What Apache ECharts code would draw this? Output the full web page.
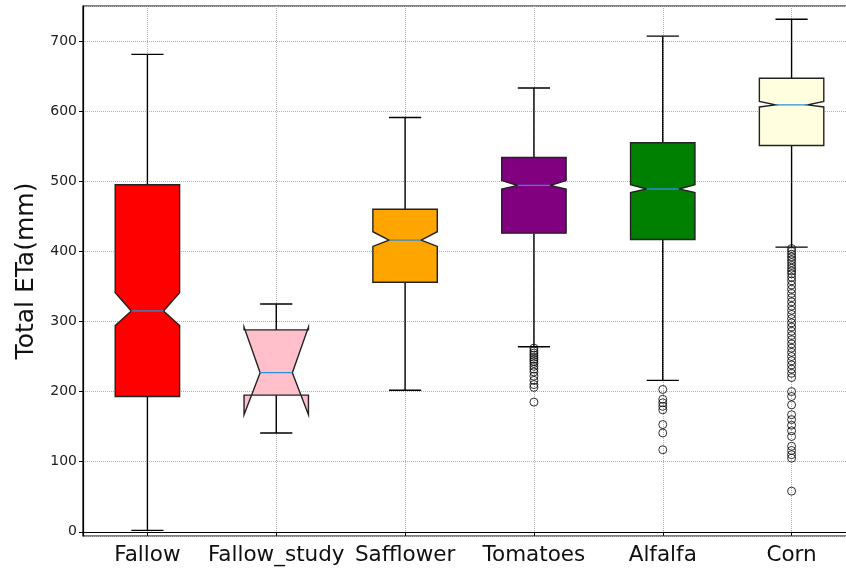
<!DOCTYPE html>
<html>
<head>
<meta charset="utf-8">
<script src="https://cdn.jsdelivr.net/npm/echarts@6/dist/echarts.min.js"></script>
<style>
  html, body { margin: 0; padding: 0; background: #fff; }
  #chart { width: 846px; height: 569px; }
</style>
</head>
<body>
<div id="chart"></div>
<script>
// crops and box statistics
const categories = ["Fallow", "Fallow_study", "Safflower", "Tomatoes", "Alfalfa", "Corn"];
const whiskerLow = [2, 141, 202, 264, 216, 406];
const q1 = [193, 195, 356, 426, 417, 551];
const notchLow = [294, 167, 407, 489, 484, 606];
const median = [315, 227, 416, 494, 489, 609];
const notchHigh = [341, 292, 428, 501, 495, 614];
const q3 = [495, 288, 460, 534, 555, 647];
const whiskerHigh = [681, 325, 591, 633, 707, 731];

const tomatoesOutliers = [262, 258, 255, 252, 249, 246, 243, 240, 236, 232, 228, 222, 216, 210, 206, 185];
const alfalfaOutliers = [203, 189, 184, 179, 174, 153, 141, 117];
const cornOutliers = [404, 400, 396, 392, 388, 384, 380, 376, 372, 368, 363, 358, 352, 346, 340,
  334, 328, 322, 316, 310, 304, 298, 292, 286, 280, 274, 268, 262, 256, 250, 244, 238, 232,
  226, 220, 200, 193, 181, 167, 160, 152, 144, 136, 122, 116, 110, 105, 58];

const boxColors = ["#ff0000", "#ffc0cb", "#ffa500", "#800080", "#008000", "#ffffe0"];

const boxData = categories.map((c, i) => [
  i, whiskerLow[i], q1[i], notchLow[i], median[i], notchHigh[i], q3[i], whiskerHigh[i]
]);

const outlierData = [];
tomatoesOutliers.forEach(v => outlierData.push([3, v]));
alfalfaOutliers.forEach(v => outlierData.push([4, v]));
cornOutliers.forEach(v => outlierData.push([5, v]));

function renderBox(params, api) {
  const idx = api.value(0);
  const band = api.size([1, 0])[0];
  const cx = api.coord([idx, 0])[0];
  const half = band * 0.25;   // box width 0.5
  const capHalf = band * 0.125; // cap / notch width 0.25
  const y = k => api.coord([idx, api.value(k)])[1];
  const wLo = y(1), bq1 = y(2), nLo = y(3), med = y(4), nHi = y(5), bq3 = y(6), wHi = y(7);
  const L = cx - half, R = cx + half, cL = cx - capHalf, cR = cx + capHalf;
  const pts = [[L, bq1], [R, bq1], [R, nLo], [cR, med], [R, nHi], [R, bq3],
               [L, bq3], [L, nHi], [cL, med], [L, nLo], [L, bq1]];
  const line = { stroke: "#000", lineWidth: 1.4 };
  return {
    type: "group",
    children: [
      { type: "line", shape: { x1: cx, y1: bq1, x2: cx, y2: wLo }, style: line },
      { type: "line", shape: { x1: cx, y1: bq3, x2: cx, y2: wHi }, style: line },
      { type: "line", shape: { x1: cL, y1: wLo, x2: cR, y2: wLo }, style: line },
      { type: "line", shape: { x1: cL, y1: wHi, x2: cR, y2: wHi }, style: line },
      { type: "polygon", shape: { points: pts },
        style: { fill: boxColors[idx], stroke: "#222", lineWidth: 1.4 } },
      { type: "line", shape: { x1: cL, y1: med, x2: cR, y2: med },
        style: { stroke: "#2b8fd6", lineWidth: 1.3 } }
    ]
  };
}

const chart = echarts.init(document.getElementById("chart"));
chart.setOption({
  animation: false,
  grid: {
    left: 83, right: -10, top: 6, bottom: 33,
    outerBoundsMode: "none",
    containLabel: false,
    show: true, borderColor: "#000", borderWidth: 1.2
  },
  xAxis: {
    type: "category",
    data: categories,
    boundaryGap: true,
    axisLine: { show: true, lineStyle: { color: "#000", width: 1.2 } },
    axisTick: { show: true, alignWithLabel: true, length: 4, lineStyle: { color: "#000" } },
    axisLabel: { fontFamily: "DejaVu Sans", fontSize: 21.5, color: "#111", margin: 8, interval: 0 },
    splitLine: { show: true, alignWithLabel: true, lineStyle: { color: "#b0b0b0", type: "dotted", width: 1 } }
  },
  yAxis: {
    type: "value",
    min: -6,
    max: 750,
    splitNumber: 7,
    name: "Total ETa(mm)",
    nameLocation: "middle",
    nameRotate: 90,
    nameGap: 44,
    nameTextStyle: { fontFamily: "DejaVu Sans", fontSize: 25, color: "#111" },
    axisLine: { show: true, lineStyle: { color: "#000", width: 1.2 } },
    axisTick: { show: true, length: 4, lineStyle: { color: "#000" } },
    axisLabel: { fontFamily: "DejaVu Sans", fontSize: 14, color: "#222", margin: 6,
      showMinLabel: false, showMaxLabel: false },
    splitLine: { show: true, lineStyle: { color: "#b0b0b0", type: "dotted", width: 1 } }
  },
  series: [
    {
      type: "custom",
      renderItem: renderBox,
      encode: { x: 0, y: [1, 2, 3, 4, 5, 6, 7] },
      data: boxData,
      z: 3
    },
    {
      type: "scatter",
      data: outlierData,
      symbol: "circle",
      symbolSize: 8,
      itemStyle: { color: "rgba(0,0,0,0)", borderColor: "#000", borderWidth: 1 },
      z: 4
    }
  ]
});
</script>
</body>
</html>
